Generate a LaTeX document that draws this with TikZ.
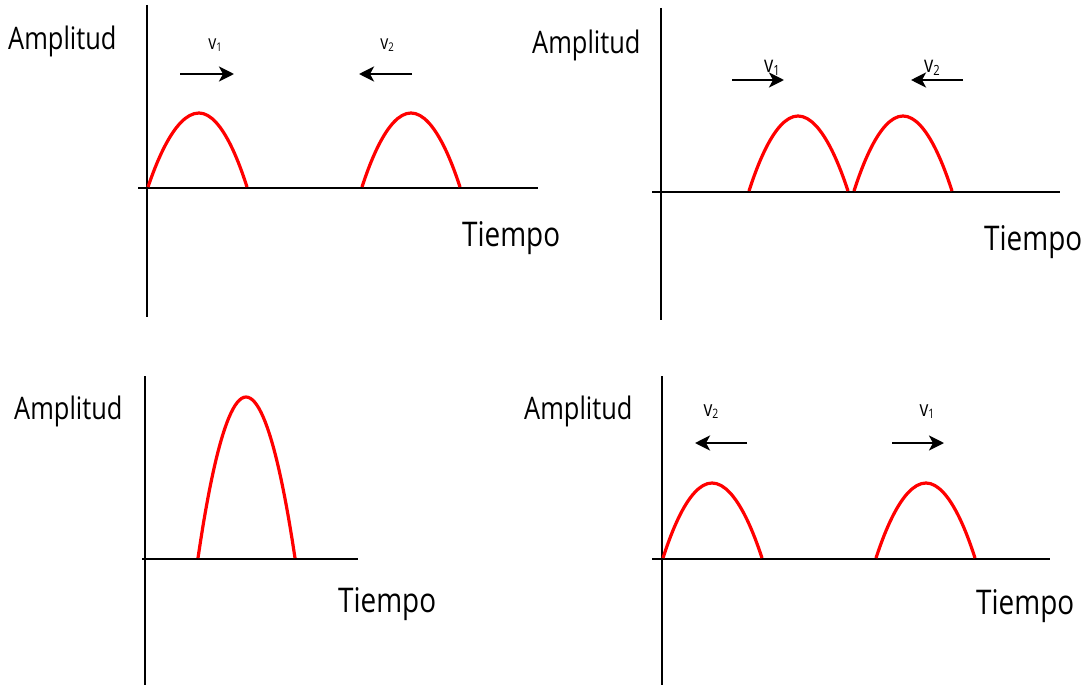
\documentclass[tikz,border=0pt]{standalone}
\usepackage{fontspec}
\setmainfont{Open Sans}
\usetikzlibrary{arrows.meta}
\newcommand{\cond}[1]{\scalebox{0.82}[1]{#1}}
\newcommand{\myvel}[3]{\scalebox{0.8}[1]{\fontsize{#1}{#1}\selectfont v\raisebox{-0.1em}{\fontsize{#2}{#2}\selectfont #3}}}
\tikzset{
  axisline/.style={line width=2.2pt, black},
  pulse/.style={line width=3.2pt, red},
  velarrow/.style={line width=2.8pt, -{Stealth[length=15pt,width=15pt,inset=4pt]}},
  amptext/.style={inner sep=0pt, anchor=base west, font=\fontsize{31}{31}\selectfont},
  timetext/.style={inner sep=0pt, anchor=base west, font=\fontsize{34}{34}\selectfont},
  vlab/.style={inner sep=0pt, anchor=base},
}
\begin{document}
\begin{tikzpicture}[x=1pt,y=-1pt]
\useasboundingbox (0,0) rectangle (1086,685);
% ---------- panel 1 ----------
\coordinate (a1t) at (147,5);   \coordinate (a1b) at (147,317);
\coordinate (h1l) at (138,188); \coordinate (h1r) at (538,188);
\draw[axisline] (a1t) -- (a1b);
\draw[axisline] (h1l) -- (h1r);
\coordinate (p1a) at (148,187); \coordinate (p1m) at (199,113); \coordinate (p1b) at (247,187);
\coordinate (p1c) at (362,187); \coordinate (p1n) at (411,113); \coordinate (p1d) at (460,187);
\draw[pulse] (p1a) parabola bend (p1m) (p1b);
\draw[pulse] (p1c) parabola bend (p1n) (p1d);
\coordinate (r1s) at (180,74); \coordinate (r1e) at (234,74);
\coordinate (l1s) at (412,74); \coordinate (l1e) at (359,74);
\draw[velarrow] (r1s) -- (r1e);
\draw[velarrow] (l1s) -- (l1e);
\node[vlab] (v1a) at (215,49) {\myvel{20}{12}{1}};
\node[vlab] (v2a) at (387,49) {\myvel{20}{12}{2}};
\node[amptext] (amp1) at (8,49) {\cond{Amplitud}};
\node[timetext] (tim1) at (462,246) {\cond{Tiempo}};
% ---------- panel 2 ----------
\coordinate (a2t) at (661,8);   \coordinate (a2b) at (661,320);
\coordinate (h2l) at (652,192); \coordinate (h2r) at (1060,192);
\draw[axisline] (a2t) -- (a2b);
\draw[axisline] (h2l) -- (h2r);
\coordinate (p2a) at (749,191); \coordinate (p2m) at (798,116); \coordinate (p2b) at (848,191);
\coordinate (p2c) at (854,191); \coordinate (p2n) at (903,116); \coordinate (p2d) at (952,191);
\draw[pulse] (p2a) parabola bend (p2m) (p2b);
\draw[pulse] (p2c) parabola bend (p2n) (p2d);
\coordinate (r2s) at (732,80); \coordinate (r2e) at (784,80);
\coordinate (l2s) at (963,80); \coordinate (l2e) at (911,80);
\draw[velarrow] (r2s) -- (r2e);
\draw[velarrow] (l2s) -- (l2e);
\node[vlab] (v1b) at (772,73) {\myvel{23}{14}{1}};
\node[vlab] (v2b) at (932,73) {\myvel{23}{14}{2}};
\node[amptext] (amp2) at (532,53) {\cond{Amplitud}};
\node[timetext] (tim2) at (984,250) {\cond{Tiempo}};
% ---------- panel 3 ----------
\coordinate (a3t) at (145,376); \coordinate (a3b) at (145,685);
\coordinate (h3l) at (142,559); \coordinate (h3r) at (358,559);
\draw[axisline] (a3t) -- (a3b);
\draw[axisline] (h3l) -- (h3r);
\coordinate (p3a) at (198,558); \coordinate (p3m) at (246,397); \coordinate (p3b) at (295,558);
\draw[pulse] (p3a) parabola bend (p3m) (p3b);
\node[amptext] (amp3) at (14,419) {\cond{Amplitud}};
\node[timetext] (tim3) at (338,612) {\cond{Tiempo}};
% ---------- panel 4 ----------
\coordinate (a4t) at (662,376); \coordinate (a4b) at (662,685);
\coordinate (h4l) at (652,559); \coordinate (h4r) at (1050,559);
\draw[axisline] (a4t) -- (a4b);
\draw[axisline] (h4l) -- (h4r);
\coordinate (p4a) at (663,558); \coordinate (p4m) at (712,483); \coordinate (p4b) at (762,558);
\coordinate (p4c) at (876,558); \coordinate (p4n) at (926,483); \coordinate (p4d) at (975,558);
\draw[pulse] (p4a) parabola bend (p4m) (p4b);
\draw[pulse] (p4c) parabola bend (p4n) (p4d);
\coordinate (l4s) at (747,443); \coordinate (l4e) at (695,443);
\coordinate (r4s) at (892,443); \coordinate (r4e) at (944,443);
\draw[velarrow] (l4s) -- (l4e);
\draw[velarrow] (r4s) -- (r4e);
\node[vlab] (v2c) at (711,416) {\myvel{22}{13}{2}};
\node[vlab] (v1c) at (927,416) {\myvel{22}{13}{1}};
\node[amptext] (amp4) at (524,419) {\cond{Amplitud}};
\node[timetext] (tim4) at (976,614) {\cond{Tiempo}};
\end{tikzpicture}
\end{document}
